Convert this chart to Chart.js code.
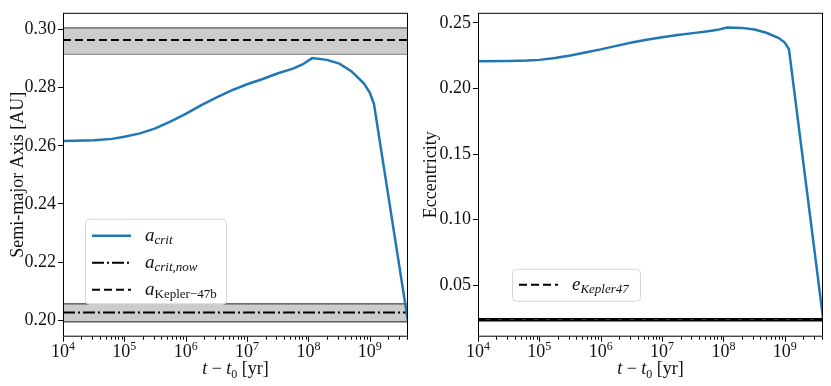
<!DOCTYPE html>
<html>
<head>
<meta charset="utf-8">
<script src="https://cdn.jsdelivr.net/npm/chart.js@4.4.1/dist/chart.umd.min.js"></script>
<style>
html, body { margin: 0; padding: 0; background: #fff; }
.panel { position: absolute; top: 0; width: 416px; height: 386px; }
</style>
</head>
<body>
<div class="panel" style="left:0"><canvas id="axisChart" width="416" height="386"></canvas></div>
<div class="panel" style="left:415px"><canvas id="eccChart" width="416" height="386"></canvas></div>
<script>
// time since t0 [yr]
var tYears = [1e4, 3.2e4, 6.3e4, 1e5, 1.8e5, 3.2e5, 5.6e5, 1e6, 1.8e6, 3.2e6, 5.6e6, 1e7,
              1.8e7, 3.2e7, 5.6e7, 8e7, 1.15e8, 2e8, 3.2e8, 5e8, 8e8, 1e9, 1.17e9, 4.2e9];
// critical semi-major axis [AU]
var aCrit = [0.2617, 0.2619, 0.2624, 0.2631, 0.2643, 0.2660, 0.2683, 0.2710, 0.2740, 0.2767, 0.2791, 0.2812,
             0.2830, 0.2850, 0.2866, 0.2880, 0.2902, 0.2896, 0.2883, 0.2857, 0.2815, 0.2783, 0.2745, 0.1995];
// eccentricity
var eCrit = [0.2207, 0.2209, 0.2213, 0.2218, 0.2232, 0.2252, 0.2275, 0.2298, 0.2325, 0.2350, 0.2372, 0.2390,
             0.2407, 0.2422, 0.2437, 0.2447, 0.2465, 0.2462, 0.2450, 0.2425, 0.2385, 0.2350, 0.2300, 0.0250];

var tSpan = [1e4, 4.2e9];
var aKepler47b = [0.2915, 0.2964, 0.3006];   // low, value, high
var aCritNow = [0.1994, 0.2026, 0.2056];
var eKepler47 = [0.0229, 0.0236, 0.0243];

var xMajorTicks = [1e4, 1e5, 1e6, 1e7, 1e8, 1e9];
var aTicks = [0.20, 0.22, 0.24, 0.26, 0.28, 0.30];
var eTicks = [0.05, 0.10, 0.15, 0.20, 0.25];

var blue = '#1f77b4';
var serif = '"Liberation Serif", "DejaVu Serif", serif';

function pts(xs, ys) { return xs.map(function (x, i) { return { x: x, y: ys[i] }; }); }
function flat(v) { return tSpan.map(function (x) { return { x: x, y: v }; }); }

function curve(label, ys) {
  return { label: label, data: pts(tYears, ys), borderColor: blue, borderWidth: 2.5,
           pointRadius: 0, fill: false, tension: 0 };
}
function refLine(label, v, dash) {
  return { label: label, data: flat(v), borderColor: '#000', borderWidth: 2,
           borderDash: dash, pointRadius: 0, fill: false };
}
function band(v, color, filled, width) {
  return { label: '', data: flat(v), borderColor: color, borderWidth: width || 1, pointRadius: 0,
           fill: filled ? '+1' : false, backgroundColor: 'rgba(0,0,0,0.2)' };
}

// minor log ticks 2..9 x 10^n
var xMinorTicks = [];
xMajorTicks.forEach(function (m) {
  for (var k = 2; k <= 9; k++) if (m * k <= tSpan[1]) xMinorTicks.push(m * k);
});

function drawText(ctx, parts, x, y, align) {
  var w = 0;
  parts.forEach(function (p) { ctx.font = p.f; w += ctx.measureText(p.t).width; });
  var cx = align === 'center' ? x - w / 2 : x;
  parts.forEach(function (p) {
    ctx.font = p.f;
    ctx.fillText(p.t, cx, y + (p.dy || 0));
    cx += ctx.measureText(p.t).width;
  });
}

var framePlugin = {
  id: 'frame',
  afterDraw: function (chart) {
    var o = chart.options.plugins.frame;
    var ctx = chart.ctx, ca = chart.chartArea, xs = chart.scales.x;
    ctx.save();
    ctx.fillStyle = '#111';
    ctx.strokeStyle = '#000';
    ctx.lineWidth = 1;
    ctx.strokeRect(ca.left + 0.5, ca.top + 0.5, ca.right - ca.left - 1, ca.bottom - ca.top - 1);

    // x ticks
    ctx.beginPath();
    xMajorTicks.forEach(function (v) {
      var px = Math.round(xs.getPixelForValue(v)) + 0.5;
      ctx.moveTo(px, ca.bottom); ctx.lineTo(px, ca.bottom + 5);
    });
    xMinorTicks.forEach(function (v) {
      var px = Math.round(xs.getPixelForValue(v)) + 0.5;
      ctx.moveTo(px, ca.bottom); ctx.lineTo(px, ca.bottom + 3);
    });
    ctx.stroke();
    ctx.textBaseline = 'alphabetic';
    xMajorTicks.forEach(function (v) {
      var ex = String(Math.round(Math.log10(v)));
      drawText(ctx, [{ t: '10', f: '18px ' + serif }, { t: ex, f: '12px ' + serif, dy: -7 }],
        xs.getPixelForValue(v), ca.bottom + 20, 'center');
    });

    // axis titles
    var it = 'italic 18px ' + serif, rm = '18px ' + serif;
    drawText(ctx, [{ t: 't', f: it }, { t: ' \u2212 ', f: rm }, { t: 't', f: it },
                   { t: '0', f: '12px ' + serif, dy: 4 }, { t: ' [yr]', f: rm }],
      (ca.left + ca.right) / 2, 374, 'center');
    ctx.save();
    ctx.translate(o.yTitleX, (ca.top + ca.bottom) / 2);
    ctx.rotate(-Math.PI / 2);
    ctx.textAlign = 'center';
    ctx.font = rm;
    ctx.fillText(o.yTitle, 0, 6);
    ctx.restore();

    // legend
    var L = o.legend;
    var bx = ca.left + L.x, by = ca.top + L.y;
    ctx.beginPath();
    ctx.roundRect(bx + 0.5, by + 0.5, L.w, L.h, 4);
    ctx.fillStyle = 'rgba(255,255,255,0.8)';
    ctx.fill();
    ctx.strokeStyle = '#d6d6d6';
    ctx.stroke();
    L.items.forEach(function (item, i) {
      var ds = chart.data.datasets[item.ds];
      var ry = by + L.rows[i];
      ctx.beginPath();
      ctx.setLineDash(ds.borderDash || []);
      ctx.strokeStyle = ds.borderColor;
      ctx.lineWidth = ds.borderWidth;
      ctx.moveTo(bx + 7, ry); ctx.lineTo(bx + 46, ry);
      ctx.stroke();
      ctx.setLineDash([]);
      ctx.fillStyle = '#111';
      drawText(ctx, [{ t: item.sym, f: 'italic 19px ' + serif },
                     { t: item.sub, f: (item.subItalic ? 'italic ' : '') + '13px ' + serif, dy: 3 }],
        bx + 60, ry + 5, 'left');
    });
    ctx.restore();
  }
};

function makeChart(id, datasets, yMin, yMax, yTicks, frame) {
  return new Chart(document.getElementById(id), {
    type: 'line',
    data: { datasets: datasets },
    plugins: [framePlugin],
    options: {
      responsive: false,
      animation: false,
      events: [],
      layout: { padding: { left: 0, right: 8, top: 8, bottom: 0 } },
      plugins: { legend: { display: false }, tooltip: { enabled: false }, frame: frame },
      scales: {
        x: {
          type: 'logarithmic', min: tSpan[0], max: tSpan[1],
          grid: { display: false }, border: { display: false },
          ticks: { display: false },
          afterFit: function (s) { s.height = 49.3; }
        },
        y: {
          min: yMin, max: yMax,
          grid: { drawOnChartArea: false, drawTicks: true, tickLength: 5, color: '#000' },
          border: { display: false },
          ticks: { padding: 2, color: '#111', font: { family: serif, size: 18 },
                   callback: function (v) { return v.toFixed(2); } },
          afterBuildTicks: function (s) { s.ticks = yTicks.map(function (v) { return { value: v }; }); },
          afterFit: function (s) { s.width = 63; }
        }
      }
    }
  });
}

var chartA = makeChart('axisChart', [
  curve('a_crit', aCrit),
  refLine('a_crit,now', aCritNow[1], [12, 3, 2, 3]),
  refLine('a_Kepler-47b', aKepler47b[1], [8, 4]),
  band(aKepler47b[2], '#333', true),
  band(aKepler47b[0], '#888', false),
  band(aCritNow[2], '#222', true),
  band(aCritNow[0], '#222', false)
], 0.1943, 0.3058, aTicks, {
  yTitle: 'Semi-major Axis [AU]', yTitleX: 17,
  legend: { x: 22, y: 206, w: 141, h: 85, rows: [17, 44, 71],
    items: [{ ds: 0, sym: 'a', sub: 'crit', subItalic: true },
            { ds: 1, sym: 'a', sub: 'crit,now', subItalic: true },
            { ds: 2, sym: 'a', sub: 'Kepler\u221247b', subItalic: false }] }
});

var chartE = makeChart('eccChart', [
  curve('e_crit', eCrit),
  refLine('e_Kepler47', eKepler47[1], [8, 4]),
  band(eKepler47[2], '#000', true, 1.6),
  band(eKepler47[0], '#000', false, 1.6)
], 0.0107, 0.2577, eTicks, {
  yTitle: 'Eccentricity', yTitleX: 15,
  legend: { x: 34, y: 256, w: 128, h: 32, rows: [16],
    items: [{ ds: 1, sym: 'e', sub: 'Kepler47', subItalic: true }] }
});
</script>
</body>
</html>
